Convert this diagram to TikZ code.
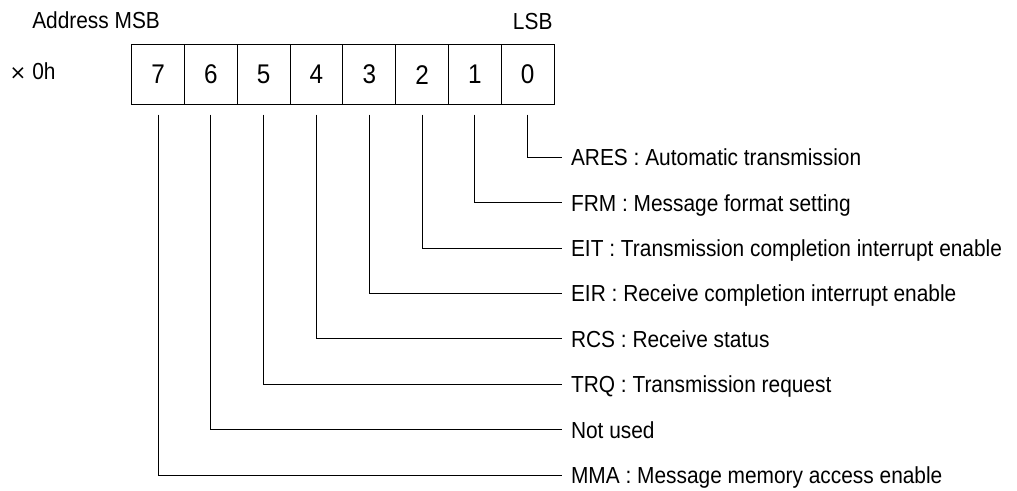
\documentclass[tikz,border=0pt]{standalone}
\usepackage{fontspec}
\setmainfont[FakeStretch=0.9]{Liberation Sans}
\newfontfamily\symfont{DejaVu Sans}
\begin{document}
\begin{tikzpicture}[x=1pt,y=-1pt,
  line width=1.1pt,
  txt/.style={font=\fontsize{23.2}{27}\selectfont, inner sep=0pt, text height=16.6pt, text depth=0pt},
  cell/.style={draw, line width=1.1pt, minimum width=52.8pt, minimum height=60pt, inner sep=0pt,
     font=\fontsize{27}{30}\selectfont},
  lbl/.style={txt, anchor=west, inner xsep=8.5pt, inner ysep=0pt},
  conn/.style={line width=1.1pt}]
\useasboundingbox (0,0) rectangle (1017,490);
\node[txt, anchor=west] (addr) at (31.7,20.5) {Address MSB};
\node[txt, anchor=east] (lsb) at (553,20.8) {LSB};
\node[txt, anchor=west] (x0h) at (9,71) {{\symfont\fontsize{20}{24}\selectfont ×}\hspace{6pt}0h};
\foreach \i [count=\k from 0] in {7,6,5,4,3,2,1,0} {
  \node[cell] (b\i) at ({131.7+26.4+52.8*\k},74.7) {\i};
}
\node[lbl] (l0) at (562,157.3) {ARES : Automatic transmission};
\node[lbl] (l1) at (562,202.7) {FRM : Message format setting};
\node[lbl] (l2) at (562,248.1) {EIT : Transmission completion interrupt enable};
\node[lbl] (l3) at (562,293.5) {EIR : Receive completion interrupt enable};
\node[lbl] (l4) at (562,338.9) {RCS : Receive status};
\node[lbl] (l5) at (562,384.3) {TRQ : Transmission request};
\node[lbl] (l6) at (562,429.7) {Not used};
\node[lbl] (l7) at (562,475.1) {MMA : Message memory access enable};
\foreach \i in {0,...,7} {
  \coordinate (t\i) at ([yshift=-9.3pt]b\i.south);
  \draw[conn] (t\i) |- (l\i.west);
}
\end{tikzpicture}
\end{document}
